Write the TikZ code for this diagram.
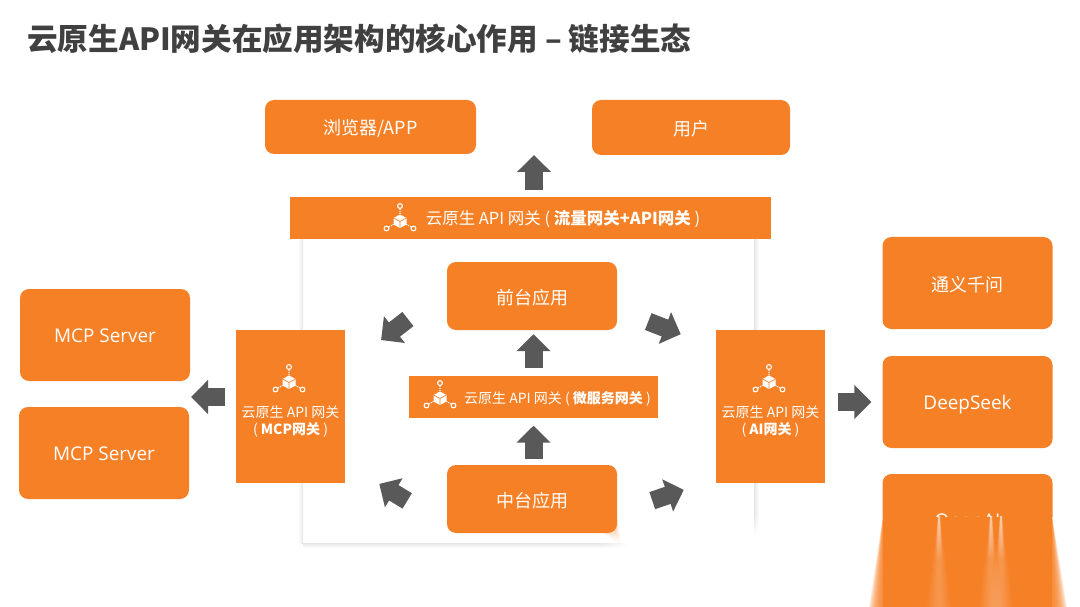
\documentclass[tikz,border=0pt]{standalone}
\usepackage{fontspec}
\setmainfont{Noto Sans CJK SC}
\newfontfamily\latinfont[Scale=1.05]{Open Sans}
\usepackage{tikz}
\usetikzlibrary{arrows.meta,positioning,calc,fadings}
\definecolor{gworange}{RGB}{246,128,38}
\definecolor{arrowgray}{RGB}{89,89,89}
\definecolor{titlegray}{RGB}{64,64,64}
\tikzset{
  appbox/.style={fill=gworange,text=white,rounded corners=9pt,inner sep=0pt,font=\fontsize{18}{22}\selectfont,text height=17pt,text depth=1pt},
  serverbox/.style={appbox,text height=15pt,font=\fontsize{18}{22}\selectfont\latinfont},
  gwbox/.style={fill=gworange,text=white,inner sep=0pt,font=\fontsize{14}{17}\selectfont,align=center},
  gwline/.style={gwbox,text height=14.5pt,text depth=1pt},
  blockarrow/.style={draw=arrowgray,line width=18pt,-{Triangle[length=17pt,width=33pt]}},
  softedge/.style={fill=gworange,opacity=0.14},
  icon/.pic={
    \draw[white,line width=1.1pt] (0,-15) circle (2.4) (-13.5,7.5) circle (2.4) (13.5,7.5) circle (2.4);
    \draw[white,line width=1.1pt,densely dotted] (0,-12) -- (0,-7) (-11,6) -- (-6.5,3.5) (11,6) -- (6.5,3.5);
    \fill[white] (0,-6.5) -- (6.5,-3) -- (6.5,3.5) -- (0,7) -- (-6.5,3.5) -- (-6.5,-3) -- cycle;
    \draw[gworange,line width=0.7pt] (-6.5,-3) -- (0,0.5) -- (6.5,-3) (0,0.5) -- (0,7);
  }
}
\newcommand{\gwbold}[1]{\textbf{#1}}
\begin{document}
\begin{tikzpicture}[x=1pt,y=-1pt]
  \useasboundingbox (0,0) rectangle (1080,607);
  % title
  \node[anchor=west,inner sep=0pt,text=titlegray,font=\fontsize{30.6}{36}\selectfont\bfseries] (title) at (27,39) {云原生API网关在应用架构的核心作用 – 链接生态};

  % panel with soft edge
  \shade[left color=white,right color=black!10] (298,238) rectangle (303,543);
  \shade[left color=black!10,right color=white] (754,238) rectangle (759,543);
  \shade[top color=black!10,bottom color=white] (303,543) rectangle (754,548);
  % wiped corner of the panel
  \fill[white,path fading=north] (750,512) rectangle (762,536);
  \fill[white] (750,536) rectangle (762,550);
  \fill[white,path fading=west] (600,541) rectangle (628,550);
  \fill[white] (628,541) rectangle (762,550);

  % top row
  \node[appbox,minimum width=211pt,minimum height=54pt] (browser) at (370.5,127) {浏览器/APP};
  \node[appbox,minimum width=198pt,minimum height=55pt] (user) at (691,127.5) {用户};

  % gateways
  \node[gwline,font=\fontsize{16.5}{19}\selectfont,minimum width=481pt,minimum height=42pt] (edgegw) at (530,218) {\hspace*{66pt}云原生 API 网关 ( \gwbold{流量网关+API网关} )};
  \node[gwline,minimum width=249pt,minimum height=42pt] (meshgw) at (533.5,396.5) {\hspace*{48pt}云原生 API 网关 ( \gwbold{微服务网关} )};
  \node[gwbox,minimum width=109pt,minimum height=153pt] (mcpgw) at (290.5,406.5) {\\[24pt]云原生 API 网关\\( \gwbold{MCP网关} )};
  \node[gwbox,minimum width=109pt,minimum height=153pt] (aigw) at (770.5,406.5) {\\[24pt]云原生 API 网关\\( \gwbold{AI网关} )};
  \pic at (400,221) {icon};
  \pic at (440,398) {icon};
  \pic at (289,382) {icon};
  \pic at (769,382) {icon};

  % apps
  \node[appbox,minimum width=170pt,minimum height=68pt] (front) at (532,296) {前台应用};
  \node[appbox,minimum width=170pt,minimum height=68pt] (middle) at (532,499) {中台应用};
  \foreach \d in {0,2,4} {
    \fill[gworange,opacity=0.22,path fading=south] ({600+\d},531) -- ({617-\d/2},{518+\d}) -- ({621-\d},{545-\d*2}) -- cycle;
  }

  % left and right
  \node[serverbox,minimum width=170pt,minimum height=92pt] (mcpa) at (105,335) {MCP Server};
  \node[serverbox,minimum width=170pt,minimum height=92pt] (mcpb) at (104,453) {MCP Server};
  \node[appbox,minimum width=170pt,minimum height=92pt] (qwen) at (967.5,283) {通义千问};
  \node[serverbox,minimum width=170pt,minimum height=92pt] (deepseek) at (967.5,402) {DeepSeek};

  % last model box runs out into the wiped corner
  \begin{scope}
    \clip (870,470) rectangle (1070,516.5);
    \node[serverbox,minimum width=170pt,minimum height=92pt] (openai) at (967.5,520) {OpenAI};
  \end{scope}
  \fill[gworange] (883,516.5) rectangle (1052,607);
  \foreach \k in {0,...,15} {
    \fill[softedge] (883,516.5) -- (883,607) -- ({869+\k},607) -- cycle;
    \fill[softedge] (1052,516.5) -- (1052,607) -- ({1067-\k},607) -- cycle;
  }
  % streaks under the cut letters
  \foreach \cx/\sp in {939/1,991/1,1001/1} {
    \foreach \w in {2,4,...,12} {
      \fill[white,opacity=0.035] ({\cx-\sp},516) -- ({\cx+\sp},516) -- ({\cx+\w},607) -- ({\cx-\w},607) -- cycle;
    }
    \foreach \w in {1,2,3} {
      \fill[white,opacity=0.22,path fading=south] ({\cx-\sp},516) -- ({\cx+\sp},516) -- ({\cx+\w+\sp},560) -- ({\cx-\w-\sp},560) -- cycle;
    }
  }

  % arrows
  \coordinate (usertip) at (534,155);
  \coordinate (servertip) at (191,397);
  \draw[blockarrow,shorten <=7pt] (edgegw.north -| usertip) -- (usertip);
  \draw[blockarrow,shorten >=4pt,shorten <=7pt] (meshgw.north) -- (meshgw.north |- front.south);
  \draw[blockarrow,shorten >=8pt,shorten <=6pt] (meshgw.south |- middle.north) -- (meshgw.south);
  \draw[blockarrow,shorten <=11pt] (mcpgw.west |- servertip) -- (servertip);
  \draw[blockarrow,shorten <=13pt,shorten >=11pt] (aigw.east |- deepseek) -- (deepseek.west);
  \draw[blockarrow,shorten <=33.3pt,shorten >=37.6pt] (front.-9.9) -- (aigw.133.9);
  \draw[blockarrow,shorten <=49.4pt,shorten >=45.6pt] (front.175.1) -- (mcpgw.35.2);
  \draw[blockarrow,shorten <=37pt,shorten >=33.8pt] (middle.-9.4) -- (aigw.233.1);
  \draw[blockarrow,shorten <=46.4pt,shorten >=39.9pt] (middle.197.5) -- (mcpgw.-46.1);
\end{tikzpicture}
\end{document}
